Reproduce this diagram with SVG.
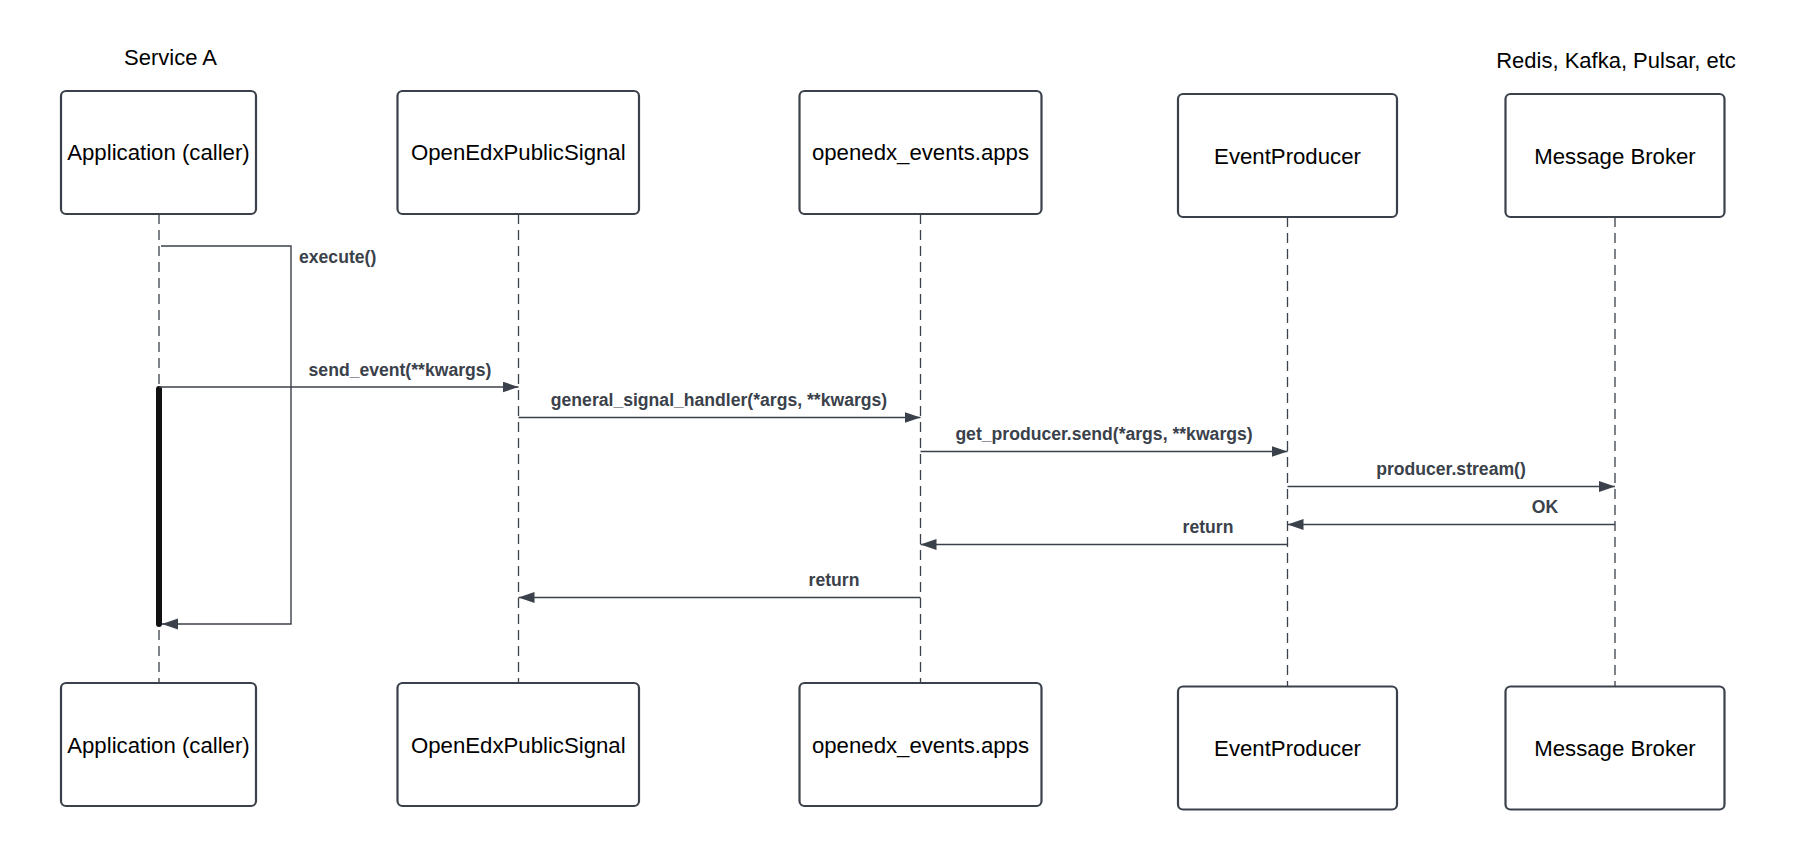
<svg xmlns="http://www.w3.org/2000/svg" width="1801" height="858" viewBox="0 0 1801 858">
<defs>
<marker id="arr" markerUnits="userSpaceOnUse" markerWidth="17" markerHeight="12" refX="16" refY="5.5" orient="auto">
<path d="M0,0 L16,5.5 L0,11 z" fill="#3a414a"/>
</marker>
<style>
.box{fill:#fff;stroke:#3a414a;stroke-width:2.2}
.bt{font-family:"Liberation Sans",Arial,sans-serif;font-size:22.2px;fill:#000;text-anchor:middle}
.hdr{font-family:"Liberation Sans",Arial,sans-serif;font-size:22px;fill:#000;text-anchor:middle}
.life{stroke:#3a414a;stroke-width:1.3;stroke-dasharray:10 6;fill:none}
.msg{stroke:#3a414a;stroke-width:1.4;fill:none;marker-end:url(#arr)}
.ml{font-family:"Liberation Sans",Arial,sans-serif;font-size:17.6px;font-weight:bold;fill:#3a414a;text-anchor:middle}
</style>
</defs>
<rect width="1801" height="858" fill="#fff"/>
<text class="hdr" x="170.5" y="64.5">Service A</text>
<text class="hdr" x="1616" y="67.5">Redis, Kafka, Pulsar, etc</text>
<g id="lifelines">
<line class="life" x1="159" y1="214" x2="159" y2="683"/>
<line class="life" x1="518.5" y1="214" x2="518.5" y2="683"/>
<line class="life" x1="920.5" y1="214" x2="920.5" y2="683"/>
<line class="life" x1="1287.5" y1="217" x2="1287.5" y2="686"/>
<line class="life" x1="1615" y1="217" x2="1615" y2="686"/>
</g>
<g id="node-app-top"><rect class="box" x="61" y="91" width="195" height="123" rx="5"/><text class="bt" x="158.5" y="160">Application (caller)</text></g>
<g id="node-signal-top"><rect class="box" x="397.5" y="91" width="241.5" height="123" rx="5"/><text class="bt" x="518.3" y="160">OpenEdxPublicSignal</text></g>
<g id="node-apps-top"><rect class="box" x="799.5" y="91" width="242" height="123" rx="5"/><text class="bt" x="920.5" y="160">openedx_events.apps</text></g>
<g id="node-producer-top"><rect class="box" x="1178" y="94" width="219" height="123" rx="5"/><text class="bt" x="1287.5" y="163.5">EventProducer</text></g>
<g id="node-broker-top"><rect class="box" x="1505.5" y="94" width="219" height="123" rx="5"/><text class="bt" x="1615" y="163.5">Message Broker</text></g>
<g id="node-app-bottom"><rect class="box" x="61" y="683" width="195" height="123" rx="5"/><text class="bt" x="158.5" y="752.5">Application (caller)</text></g>
<g id="node-signal-bottom"><rect class="box" x="397.5" y="683" width="241.5" height="123" rx="5"/><text class="bt" x="518.3" y="752.5">OpenEdxPublicSignal</text></g>
<g id="node-apps-bottom"><rect class="box" x="799.5" y="683" width="242" height="123" rx="5"/><text class="bt" x="920.5" y="752.5">openedx_events.apps</text></g>
<g id="node-producer-bottom"><rect class="box" x="1178" y="686.5" width="219" height="123" rx="5"/><text class="bt" x="1287.5" y="756">EventProducer</text></g>
<g id="node-broker-bottom"><rect class="box" x="1505.5" y="686.5" width="219" height="123" rx="5"/><text class="bt" x="1615" y="756">Message Broker</text></g>
<g id="activation"><line x1="159" y1="389" x2="159" y2="624" stroke="#111" stroke-width="6" stroke-linecap="round"/></g>
<g id="connectors">
<path class="msg" d="M161,246 H291 V624 H162"/>
<path class="msg" d="M159,387 H518.5"/>
<path class="msg" d="M518.5,417.5 H920.5"/>
<path class="msg" d="M920.5,451.5 H1287.5"/>
<path class="msg" d="M1287.5,486.5 H1615"/>
<path class="msg" d="M1615,524.5 H1287.5"/>
<path class="msg" d="M1287.5,544.5 H920.5"/>
<path class="msg" d="M920.5,597.5 H518.5"/>
<text class="ml" x="299" y="263" style="text-anchor:start">execute()</text>
<text class="ml" x="400" y="376">send_event(**kwargs)</text>
<text class="ml" x="719" y="406">general_signal_handler(*args, **kwargs)</text>
<text class="ml" x="1104" y="440">get_producer.send(*args, **kwargs)</text>
<text class="ml" x="1451" y="475">producer.stream()</text>
<text class="ml" x="1545" y="513">OK</text>
<text class="ml" x="1208" y="533">return</text>
<text class="ml" x="834" y="586">return</text>
</g>
</svg>
